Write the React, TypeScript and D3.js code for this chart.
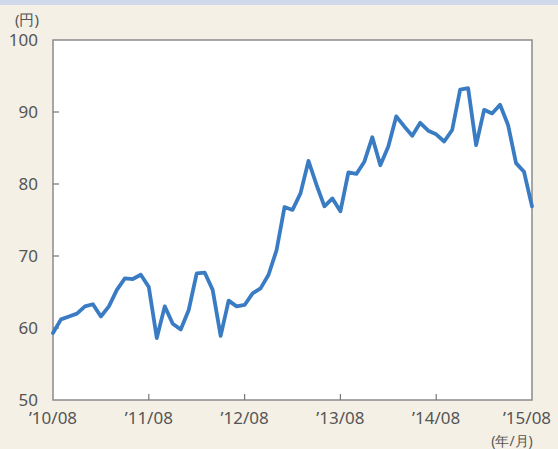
import React from "react";
import * as d3 from "d3";

const values: number[] = [
  59.3, 61.2, 61.6, 62.0, 63.0, 63.3, 61.6, 63.0, 65.3, 66.9, 66.8, 67.4,
  65.7, 58.6, 63.0, 60.6, 59.8, 62.5, 67.6, 67.7, 65.3, 58.9, 63.8, 63.0,
  63.2, 64.8, 65.5, 67.4, 70.8, 76.8, 76.4, 78.7, 83.2, 79.9, 76.9, 78.0,
  76.2, 81.6, 81.4, 83.1, 86.5, 82.6, 85.2, 89.4, 88.0, 86.7, 88.5, 87.4,
  86.9, 85.9, 87.5, 93.1, 93.3, 85.4, 90.3, 89.8, 91.0, 88.2, 82.9, 81.7, 76.9,
];
const xTickLabels: string[] = ["’10/08", "’11/08", "’12/08", "’13/08", "’14/08", "’15/08"];
const yTicks: number[] = [50, 60, 70, 80, 90, 100];

export default function App() {
  const W = 558, H = 449;
  const left = 53, right = 532, top = 40, bottom = 400;
  const x = d3.scaleLinear().domain([0, values.length - 1]).range([left, right]);
  const y = d3.scaleLinear().domain([50, 100]).range([bottom, top]);
  const line = d3.line<number>().x((_, i) => x(i)).y((d) => y(d));
  const font = "'Noto Sans', sans-serif";
  const textColor = "#555";
  return (
    <svg width={W} height={H} style={{ position: "absolute", left: 0, top: 0 }}>
      <rect x={0} y={0} width={W} height={H} fill="#f4f0e6" />
      <rect x={0} y={0} width={W} height={5} fill="#d0d9eb" />
      <rect x={left} y={top} width={right - left} height={bottom - top} fill="#fff" stroke="#8a8a8a" strokeWidth={1.5} />
      {yTicks.map((t) => (
        <g key={t}>
          {t > 50 && t < 100 && <line x1={left} x2={left + 6} y1={y(t)} y2={y(t)} stroke="#777" strokeWidth={1.2} />}
          <text x={38} y={y(t)} dy="0.35em" textAnchor="end" fontFamily={font} fontSize={17} fill={textColor}>{t}</text>
        </g>
      ))}
      {xTickLabels.map((lab, i) => {
        const xi = x(i * 12);
        const last = i === xTickLabels.length - 1;
        return (
          <g key={lab}>
            {i > 0 && !last && <line x1={xi} x2={xi} y1={bottom} y2={bottom - 6} stroke="#777" strokeWidth={1.2} />}
            <text x={last ? 527 : xi} y={424} textAnchor="middle" fontFamily={font} fontSize={17} fill={textColor}>{lab}</text>
          </g>
        );
      })}
      <text x={27} y={25} textAnchor="middle" fontFamily={font} fontSize={15} fill={textColor}>(円)</text>
      <text x={512} y={446} textAnchor="middle" fontFamily={font} fontSize={14} fill={textColor}>(年/月)</text>
      <path d={line(values) || ""} fill="none" stroke="#3a7cc4" strokeWidth={3.8} strokeLinejoin="round" strokeLinecap="round" />
    </svg>
  );
}
